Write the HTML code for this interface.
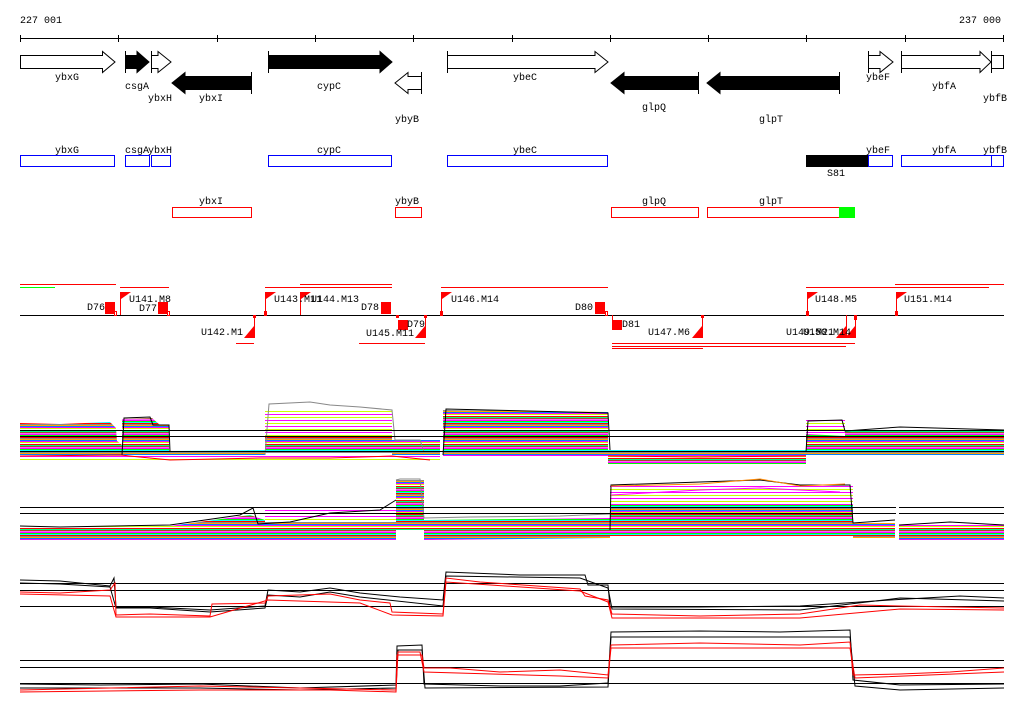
<!DOCTYPE html>
<html><head><meta charset="utf-8"><style>
html,body{margin:0;padding:0;background:#fff;}
svg{display:block;}
text{font-family:"Liberation Mono","DejaVu Sans Mono",monospace;font-size:10px;fill:#000;}
</style></head><body>
<svg width="1024" height="714" viewBox="0 0 1024 714" xmlns="http://www.w3.org/2000/svg">
<defs>
<pattern id="st" width="8" height="14" patternUnits="userSpaceOnUse">
<rect width="8" height="14" fill="#fff"/>
<rect y="0" width="8" height="1" fill="#ff00ff"/>
<rect y="1" width="8" height="1" fill="#00ff00"/>
<rect y="2" width="8" height="1" fill="#00ffff"/>
<rect y="3" width="8" height="1" fill="#ff0000"/>
<rect y="4" width="8" height="1" fill="#888"/>
<rect y="5" width="8" height="1" fill="#ffa500"/>
<rect y="6" width="8" height="1" fill="#0080ff"/>
<rect y="7" width="8" height="1" fill="#ff00ff"/>
<rect y="8" width="8" height="1" fill="#ccff00"/>
<rect y="9" width="8" height="1" fill="#fff"/>
<rect y="10" width="8" height="1" fill="#ff0000"/>
<rect y="11" width="8" height="1" fill="#00ff80"/>
<rect y="12" width="8" height="1" fill="#a0522d"/>
<rect y="13" width="8" height="1" fill="#ff60ff"/>
</pattern>
<pattern id="sp" width="8" height="6" patternUnits="userSpaceOnUse">
<rect width="8" height="6" fill="#fff"/>
<rect y="0" width="8" height="1" fill="#ff00ff"/>
<rect y="3" width="8" height="1" fill="#ccff00"/>
</pattern>
</defs>

<!-- scale -->
<text x="20" y="23">227 001</text>
<text x="959" y="23">237 000</text>
<g stroke="#000" stroke-width="1">
<line x1="20" y1="38.5" x2="1004" y2="38.5"/>
<path d="M20.5 35v7M118.5 35v7M217.5 35v7M315.5 35v7M413.5 35v7M512.5 35v7M610.5 35v7M708.5 35v7M806.5 35v7M905.5 35v7M1003.5 35v7"/>
</g>

<!-- gene arrows -->
<g stroke="#000" stroke-width="1">
<polygon points="20.5,55.5 102.5,55.5 102.5,51.5 115,62 102.5,72.5 102.5,68.5 20.5,68.5" fill="#fff"/>
<polygon points="125.5,55.5 137,55.5 137,51.5 149,62 137,72.5 137,68.5 125.5,68.5" fill="#000"/>
<line x1="125.5" y1="51" x2="125.5" y2="73"/>
<polygon points="151.5,55.5 158,55.5 158,51.5 171,62 158,72.5 158,68.5 151.5,68.5" fill="#fff"/>
<line x1="151.5" y1="51" x2="151.5" y2="73"/>
<polygon points="268.5,55.5 380,55.5 380,51.5 392,62 380,72.5 380,68.5 268.5,68.5" fill="#000"/>
<line x1="268.5" y1="51" x2="268.5" y2="73"/>
<polygon points="447.5,55.5 595,55.5 595,51.5 608,62 595,72.5 595,68.5 447.5,68.5" fill="#fff"/>
<line x1="447.5" y1="51" x2="447.5" y2="73"/>
<polygon points="868.5,55.5 880,55.5 880,51.5 893,62 880,72.5 880,68.5 868.5,68.5" fill="#fff"/>
<line x1="868.5" y1="51" x2="868.5" y2="73"/>
<polygon points="901.5,55.5 980,55.5 980,51.5 991,62 980,72.5 980,68.5 901.5,68.5" fill="#fff"/>
<line x1="901.5" y1="51" x2="901.5" y2="73"/>
<rect x="991.5" y="55.5" width="12" height="13" fill="#fff"/>
<line x1="991.5" y1="51" x2="991.5" y2="73"/>
<!-- reverse -->
<polygon points="251.5,76.5 185,76.5 185,72.5 172,83 185,93.5 185,89.5 251.5,89.5" fill="#000"/>
<line x1="251.5" y1="72" x2="251.5" y2="94"/>
<polygon points="421.5,76.5 408,76.5 408,72.5 395,83 408,93.5 408,89.5 421.5,89.5" fill="#fff"/>
<line x1="421.5" y1="72" x2="421.5" y2="94"/>
<polygon points="698.5,76.5 624,76.5 624,72.5 611,83 624,93.5 624,89.5 698.5,89.5" fill="#000"/>
<line x1="698.5" y1="72" x2="698.5" y2="94"/>
<polygon points="839.5,76.5 720,76.5 720,72.5 707,83 720,93.5 720,89.5 839.5,89.5" fill="#000"/>
<line x1="839.5" y1="72" x2="839.5" y2="94"/>
</g>
<text x="55" y="80">ybxG</text>
<text x="125" y="89">csgA</text>
<text x="148" y="101">ybxH</text>
<text x="199" y="101">ybxI</text>
<text x="317" y="89">cypC</text>
<text x="395" y="122">ybyB</text>
<text x="513" y="80">ybeC</text>
<text x="642" y="110">glpQ</text>
<text x="759" y="122">glpT</text>
<text x="866" y="80">ybeF</text>
<text x="932" y="89">ybfA</text>
<text x="983" y="101">ybfB</text>

<!-- row 2 blue -->
<g fill="none" stroke="#0000ff" stroke-width="1">
<rect x="20.5" y="155.5" width="94" height="11"/>
<rect x="125.5" y="155.5" width="24" height="11"/>
<rect x="151.5" y="155.5" width="19" height="11"/>
<rect x="268.5" y="155.5" width="123" height="11"/>
<rect x="447.5" y="155.5" width="160" height="11"/>
<rect x="868.5" y="155.5" width="24" height="11"/>
<rect x="901.5" y="155.5" width="90" height="11"/>
<rect x="991.5" y="155.5" width="12" height="11"/>
</g>
<rect x="806" y="155" width="62" height="12" fill="#000"/>
<text x="55" y="153">ybxG</text>
<text x="125" y="153">csgA</text>
<text x="148" y="153">ybxH</text>
<text x="317" y="153">cypC</text>
<text x="513" y="153">ybeC</text>
<text x="866" y="153">ybeF</text>
<text x="932" y="153">ybfA</text>
<text x="983" y="153">ybfB</text>
<text x="827" y="176">S81</text>

<!-- row 3 red -->
<g fill="none" stroke="#ff0000" stroke-width="1">
<rect x="172.5" y="207.5" width="79" height="10"/>
<rect x="395.5" y="207.5" width="26" height="10"/>
<rect x="611.5" y="207.5" width="87" height="10"/>
<rect x="707.5" y="207.5" width="132" height="10"/>
</g>
<rect x="839" y="207" width="16" height="11" fill="#00ff00"/>
<text x="199" y="204">ybxI</text>
<text x="395" y="204">ybyB</text>
<text x="642" y="204">glpQ</text>
<text x="759" y="204">glpT</text>

<!-- row 4 features -->
<g stroke="#ff0000" stroke-width="1">
<line x1="20" y1="284.5" x2="116" y2="284.5"/>
<line x1="120" y1="287.5" x2="169" y2="287.5"/>
<line x1="265" y1="287.5" x2="392" y2="287.5"/>
<line x1="300" y1="284.5" x2="392" y2="284.5"/>
<line x1="441" y1="287.5" x2="608" y2="287.5"/>
<line x1="806" y1="287.5" x2="989" y2="287.5"/>
<line x1="895" y1="284.5" x2="1004" y2="284.5"/>
<line x1="236" y1="343.5" x2="254" y2="343.5"/>
<line x1="359" y1="343.5" x2="425" y2="343.5"/>
<line x1="612" y1="343.5" x2="855" y2="343.5"/>
<line x1="612" y1="346.5" x2="846" y2="346.5"/>
<line x1="612" y1="348.5" x2="703" y2="348.5"/>
</g>
<line x1="20" y1="287.5" x2="55" y2="287.5" stroke="#00ff00"/>
<line x1="20" y1="315.5" x2="1004" y2="315.5" stroke="#000"/>
<g fill="#ff0000">
<rect x="105" y="302" width="10" height="12"/><rect x="158" y="302" width="10" height="12"/>
<rect x="381" y="302" width="10" height="12"/><rect x="398" y="320" width="10" height="10"/>
<rect x="595" y="302" width="10" height="12"/><rect x="612" y="320" width="10" height="10"/>
<!-- up flags -->
<rect x="120" y="292" width="1" height="23"/><polygon points="121,292 131,292 121,299"/>
<rect x="265" y="292" width="1" height="23"/><polygon points="266,292 276,292 266,299"/>
<rect x="300" y="292" width="1" height="23"/><polygon points="301,292 311,292 301,299"/>
<rect x="441" y="292" width="1" height="23"/><polygon points="442,292 452,292 442,299"/>
<rect x="807" y="292" width="1" height="23"/><polygon points="808,292 818,292 808,299"/>
<rect x="896" y="292" width="1" height="23"/><polygon points="897,292 907,292 897,299"/>
<!-- down flags -->
<rect x="254" y="315" width="1" height="23"/><polygon points="254,326 254,338 244,338"/><rect x="253" y="315" width="3" height="3"/>
<rect x="425" y="315" width="1" height="23"/><polygon points="425,326 425,338 415,338"/><rect x="424" y="315" width="3" height="3"/>
<rect x="702" y="315" width="1" height="23"/><polygon points="702,326 702,338 692,338"/><rect x="701" y="315" width="3" height="3"/>
<rect x="846" y="315" width="1" height="23"/><polygon points="846,326 846,338 836,338"/>
<rect x="855" y="315" width="1" height="23"/><polygon points="855,326 855,338 845,338"/>
<rect x="396" y="315" width="3" height="3"/>
</g>
<g fill="none" stroke="#ff0000" stroke-width="1">
<rect x="114.5" y="311.5" width="2" height="4"/><rect x="167.5" y="311.5" width="2" height="4"/>
<rect x="264.5" y="311.5" width="2" height="4"/><rect x="440.5" y="311.5" width="2" height="4"/>
<rect x="605.5" y="311.5" width="2" height="4"/><rect x="806.5" y="311.5" width="2" height="4"/>
<rect x="895.5" y="311.5" width="2" height="4"/><rect x="854.5" y="315.5" width="2" height="4"/>
<line x1="612.5" y1="315" x2="612.5" y2="322"/>
</g>
<text x="87" y="310">D76</text>
<text x="129" y="302">U141.M8</text>
<text x="139" y="311">D77</text>
<text x="201" y="335">U142.M1</text>
<text x="274" y="302">U143.M11</text>
<text x="311" y="302">U144.M13</text>
<text x="361" y="310">D78</text>
<text x="407" y="327">D79</text>
<text x="366" y="336">U145.M11</text>
<text x="451" y="302">U146.M14</text>
<text x="575" y="310">D80</text>
<text x="622" y="327">D81</text>
<text x="648" y="335">U147.M6</text>
<text x="786" y="335">U149.M21</text>
<text x="803" y="335">U150.M14</text>
<text x="815" y="302">U148.M5</text>
<text x="904" y="302">U151.M14</text>

<!-- panel 1 -->
<g fill="url(#st)">
<polygon points="20,423 60,424 110,422 116,428 118,455 20,455"/>
<polygon points="116,440 122,445 122,455 116,455"/>
<polygon points="122,419 152,418 160,425 169,425 169,455 122,455"/>
<polygon points="169,451 265,450 265,460 169,462"/>
<polygon points="265,437 392,437 392,453 265,453"/>
<polygon points="392,440 440,440 440,460 392,460"/>
<polygon points="443,410 608,412 608,456 443,456"/>
<polygon points="608,450 806,450 806,464 608,464"/>
<polygon points="806,434 845,436 845,455 806,455"/>
<polygon points="845,430 1004,430 1004,455 845,455"/>
</g>
<g fill="url(#sp)">
<polygon points="265,410 392,410 392,437 265,437"/>
<polygon points="806,418 845,418 845,434 806,434"/>
<polygon points="20,455 440,455 440,462 20,462"/>
</g>
<g fill="none" stroke-width="1">
<polyline stroke="#000" points="122,455 124,418 150,417 153,425 169,425 170,452"/>
<polyline stroke="#888" points="265,455 269,404 310,402 330,405 360,407 392,410 395,440 420,440 424,452"/>
<polyline stroke="#000" points="443,455 446,409 608,413 610,450"/>
<polyline stroke="#000" points="806,452 808,421 842,420 845,431 900,427 1004,430"/>
<polyline stroke="#ff0000" points="20,456 120,455 170,460 260,458 330,458 392,456 430,460"/>
<polyline stroke="#ff0000" points="608,456 700,457 806,456"/>
</g>
<g stroke="#000" stroke-width="1">
<line x1="20" y1="430.5" x2="1004" y2="430.5"/>
<line x1="20" y1="436.5" x2="1004" y2="436.5"/>
<line x1="20" y1="451.5" x2="1004" y2="451.5"/>
</g>

<!-- panel 2 -->
<g fill="url(#st)">
<polygon points="20,527 170,526 250,515 265,520 396,522 396,540 20,540"/>
<polygon points="396,480 424,480 424,530 396,530"/>
<polygon points="424,520 610,518 610,538 424,540"/>
<polygon points="610,505 853,505 853,536 610,536"/>
<polygon points="853,523 895,523 895,538 853,538"/>
<polygon points="899,525 1004,525 1004,540 899,540"/>
</g>
<g fill="url(#sp)">
<polygon points="610,485 853,485 853,505 610,505"/>
<polygon points="265,510 396,505 396,522 265,522"/>
</g>
<g fill="none" stroke-width="1">
<polyline stroke="#000" points="20,526 60,527 170,525 240,515 253,508 258,524 290,522 330,513 380,510 396,500"/>
<polyline stroke="#888" points="396,480 400,479 420,479 424,518 470,517 560,516 610,514"/>
<polyline stroke="#000" points="610,530 611,485 700,482 760,480 800,485 850,485 853,523 895,520"/>
<polyline stroke="#ff8800" points="611,486 700,484 760,479 800,486 845,484"/>
<polyline stroke="#ff00ff" points="611,495 700,490 760,488 840,492"/>
<polyline stroke="#000" points="899,525 950,522 1004,525"/>
</g>
<g stroke="#000" stroke-width="1">
<line x1="20" y1="507.5" x2="896" y2="507.5"/><line x1="899" y1="507.5" x2="1004" y2="507.5"/>
<line x1="20" y1="513.5" x2="896" y2="513.5"/><line x1="899" y1="513.5" x2="1004" y2="513.5"/>
</g>

<!-- panel 3 -->
<g stroke="#000" stroke-width="1">
<line x1="20" y1="583.5" x2="1004" y2="583.5"/>
<line x1="20" y1="590.5" x2="1004" y2="590.5"/>
<line x1="20" y1="606.5" x2="1004" y2="606.5"/>
</g>
<g fill="none" stroke-width="1">
<polyline stroke="#000" points="20,580 60,581 110,586 114,578 116,607 150,607 210,610 265,606 268,590 300,592 330,588 360,593 400,597 443,600 446,572 520,575 585,575 588,585 608,585 610,607 700,607 800,606 890,600 960,596 1004,598"/>
<polyline stroke="#000" points="20,583 60,584 110,587 116,608 150,608 210,612 265,608 268,595 300,597 330,592 360,597 443,606 446,576 580,578 608,588 612,609 800,610 850,604 900,598 1004,601"/>
<polyline stroke="#ff0000" points="20,592 60,593 110,590 115,583 116,615 150,614 210,616 212,604 265,603 268,596 330,594 360,600 390,603 392,612 443,614 446,578 480,582 580,589 585,596 608,600 612,614 700,616 800,614 860,605 900,606 1004,608"/>
<polyline stroke="#ff0000" points="20,594 110,596 116,617 150,617 210,617 268,600 360,603 392,615 443,616 446,582 580,591 608,602 612,618 800,618 900,609 1004,610"/>
</g>

<!-- panel 4 -->
<g stroke="#000" stroke-width="1">
<line x1="20" y1="660.5" x2="1004" y2="660.5"/>
<line x1="20" y1="667.5" x2="1004" y2="667.5"/>
<line x1="20" y1="683.5" x2="1004" y2="683.5"/>
</g>
<g fill="none" stroke-width="1">
<polyline stroke="#000" points="20,684 100,685 200,684 300,688 396,685 397,646 422,645 424,684 500,686 560,686 608,683 611,632 700,631 780,632 850,630 853,680 900,685 1004,684"/>
<polyline stroke="#000" points="20,688 200,688 300,690 396,688 398,650 422,650 425,688 608,687 611,637 850,637 855,686 900,690 1004,688"/>
<polyline stroke="#ff0000" points="20,690 200,686 300,688 396,690 397,655 422,655 424,668 450,668 500,672 560,670 608,675 611,645 700,643 800,645 850,642 853,675 900,674 950,672 1004,668"/>
<polyline stroke="#ff0000" points="20,692 200,690 330,690 396,692 398,652 420,652 424,672 560,676 608,678 611,648 850,648 855,678 1004,672"/>
</g>
</svg>
</body></html>
